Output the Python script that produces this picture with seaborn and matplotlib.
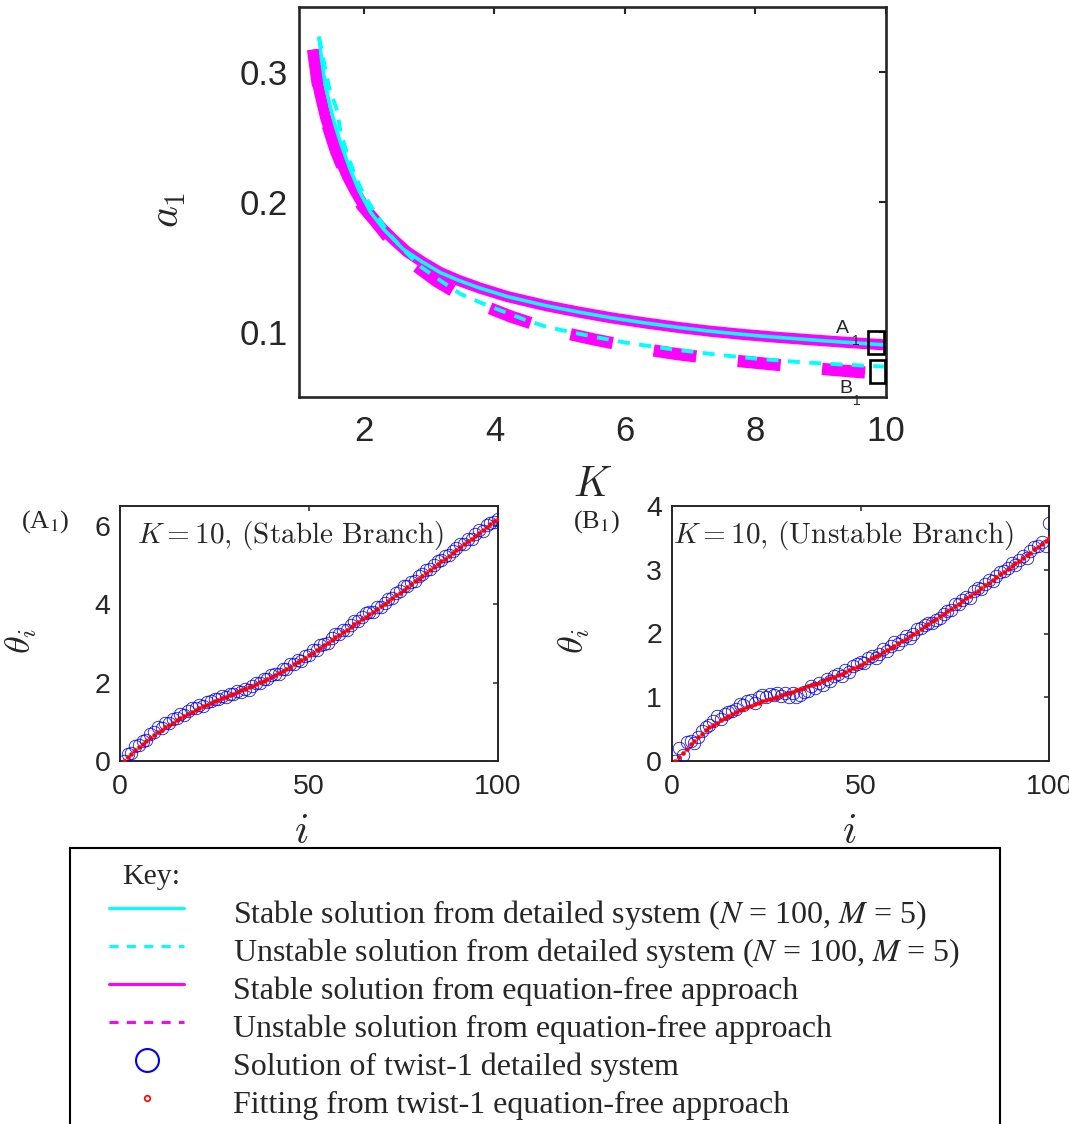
import matplotlib
matplotlib.use("Agg")
import matplotlib.pyplot as plt
from matplotlib.lines import Line2D
from matplotlib.patches import Rectangle
import seaborn as sns

# ---------------- a1 against K (branches of the twist-1 state) ----------------
K_stable_ef = [1.22, 1.29, 1.33, 1.41, 1.48, 1.57, 1.65, 1.75, 1.86, 1.97, 2.10, 2.25,
               2.45, 2.66, 2.90, 3.17, 3.45, 3.78, 4.20, 4.79, 5.30, 5.81, 6.30, 6.83,
               7.30, 7.85, 8.30, 8.86, 9.40, 10.0]
a_stable_ef = [0.317, 0.291, 0.282, 0.265, 0.254, 0.240, 0.2305, 0.219, 0.2085, 0.199,
               0.190, 0.181, 0.171, 0.1615, 0.1535, 0.1455, 0.1395, 0.1335, 0.127, 0.1200,
               0.1150, 0.1105, 0.1068, 0.1032, 0.1004, 0.0977, 0.0958, 0.0937, 0.0918, 0.0898]

K_stable_ds = [1.31, 1.35, 1.40, 1.47, 1.55, 1.65, 1.78, 1.92, 2.10, 2.30, 2.60, 2.90,
               3.17, 3.45, 3.78, 4.20, 4.79, 5.30, 5.81, 6.30, 6.83, 7.30, 7.85, 8.30,
               8.86, 9.40, 10.0]
a_stable_ds = [0.327, 0.310, 0.292, 0.276, 0.260, 0.244, 0.226, 0.209, 0.192, 0.179,
               0.1635, 0.1535, 0.1455, 0.1395, 0.1335, 0.127, 0.1200, 0.1150, 0.1105,
               0.1068, 0.1032, 0.1004, 0.0977, 0.0958, 0.0937, 0.0918, 0.0898]

K_unstable_ds = [1.31, 1.36, 1.46, 1.59, 1.64, 1.74, 1.86, 2.00, 2.18, 2.38, 2.61, 2.87,
                 3.16, 3.48, 3.79, 4.11, 4.45, 4.78, 5.00, 5.50, 6.00, 6.70, 7.40, 8.00,
                 8.70, 9.30, 10.0]
a_unstable_ds = [0.327, 0.314, 0.289, 0.270, 0.254, 0.237, 0.2205, 0.205, 0.191, 0.1756,
                 0.1628, 0.150, 0.1397, 0.129, 0.1223, 0.1160, 0.1095, 0.1040, 0.1015,
                 0.0963, 0.0917, 0.0866, 0.0824, 0.0793, 0.0765, 0.0748, 0.0731]

K_unstable_ef = [1.22, 1.29, 1.41, 1.57, 1.75, 1.97, 2.18, 2.60, 3.11, 3.60, 4.26, 4.90,
                 5.52, 6.15, 6.79, 7.45, 8.09, 8.75, 9.39, 9.72]
a_unstable_ef = [0.317, 0.291, 0.264, 0.239, 0.217, 0.197, 0.1846, 0.158, 0.139, 0.1245,
                 0.1115, 0.101, 0.0941, 0.0878, 0.0828, 0.0788, 0.0757, 0.0725, 0.0698, 0.0685]

# boxes marking the K = 10 solutions shown below: (K0, a0, width, height)
box_A1 = (9.73, 0.0829, 0.24, 0.0179)
box_B1 = (9.75, 0.0603, 0.23, 0.0179)

# ---------------- oscillator phases at K = 10 ----------------
i_index = list(range(1, 101))

theta_stable_fit = [
    0.00, 0.09, 0.18, 0.27, 0.36, 0.44, 0.51, 0.59, 0.66, 0.74,
    0.80, 0.86, 0.92, 0.98, 1.04, 1.09, 1.14, 1.19, 1.24, 1.30,
    1.34, 1.39, 1.43, 1.48, 1.52, 1.56, 1.60, 1.64, 1.68, 1.72,
    1.76, 1.80, 1.84, 1.88, 1.92, 1.96, 2.01, 2.05, 2.10, 2.14,
    2.19, 2.24, 2.30, 2.35, 2.40, 2.46, 2.52, 2.57, 2.63, 2.69,
    2.76, 2.82, 2.89, 2.95, 3.02, 3.09, 3.15, 3.22, 3.28, 3.35,
    3.42, 3.48, 3.55, 3.61, 3.68, 3.75, 3.81, 3.88, 3.94, 4.01,
    4.08, 4.15, 4.22, 4.29, 4.37, 4.44, 4.51, 4.58, 4.65, 4.72,
    4.79, 4.87, 4.94, 5.01, 5.09, 5.16, 5.23, 5.30, 5.38, 5.45,
    5.52, 5.60, 5.67, 5.74, 5.82, 5.89, 5.96, 6.03, 6.11, 6.18]

theta_stable_detailed = [
    0.00, 0.17, 0.21, 0.37, 0.42, 0.52, 0.53, 0.69, 0.73, 0.86,
    0.85, 0.96, 0.96, 1.07, 1.10, 1.19, 1.17, 1.27, 1.34, 1.35,
    1.43, 1.41, 1.50, 1.53, 1.58, 1.58, 1.65, 1.64, 1.72, 1.70,
    1.78, 1.76, 1.83, 1.82, 1.90, 2.00, 1.98, 2.10, 2.10, 2.20,
    2.21, 2.21, 2.35, 2.35, 2.47, 2.47, 2.57, 2.55, 2.67, 2.71,
    2.82, 2.82, 2.96, 2.98, 3.00, 3.14, 3.23, 3.24, 3.34, 3.34,
    3.47, 3.56, 3.58, 3.67, 3.78, 3.79, 3.81, 3.93, 3.92, 4.04,
    4.14, 4.16, 4.29, 4.33, 4.46, 4.47, 4.57, 4.58, 4.72, 4.77,
    4.88, 4.89, 5.00, 5.09, 5.12, 5.23, 5.24, 5.36, 5.42, 5.53,
    5.54, 5.66, 5.67, 5.79, 5.89, 5.87, 6.01, 6.06, 6.10, 6.18]

theta_unstable_fit = [
    0.00, 0.06, 0.13, 0.19, 0.26, 0.31, 0.37, 0.42, 0.48, 0.53,
    0.57, 0.60, 0.64, 0.68, 0.71, 0.74, 0.77, 0.80, 0.82, 0.85,
    0.87, 0.89, 0.91, 0.94, 0.96, 0.98, 0.99, 1.01, 1.03, 1.05,
    1.07, 1.09, 1.11, 1.13, 1.15, 1.17, 1.19, 1.21, 1.23, 1.25,
    1.28, 1.30, 1.32, 1.35, 1.37, 1.40, 1.43, 1.46, 1.48, 1.51,
    1.54, 1.58, 1.61, 1.64, 1.67, 1.71, 1.74, 1.78, 1.81, 1.85,
    1.88, 1.92, 1.96, 1.99, 2.03, 2.07, 2.11, 2.15, 2.19, 2.23,
    2.27, 2.31, 2.35, 2.39, 2.43, 2.47, 2.51, 2.55, 2.59, 2.63,
    2.67, 2.72, 2.76, 2.80, 2.84, 2.88, 2.93, 2.97, 3.01, 3.06,
    3.10, 3.14, 3.19, 3.23, 3.27, 3.32, 3.36, 3.41, 3.45, 3.50]

theta_unstable_detailed = [
    0.00, 0.20, 0.09, 0.30, 0.31, 0.28, 0.38, 0.47, 0.53, 0.57,
    0.62, 0.70, 0.66, 0.73, 0.77, 0.79, 0.82, 0.90, 0.88, 0.94,
    0.96, 0.91, 1.00, 1.03, 1.01, 1.05, 1.04, 1.06, 1.02, 1.06,
    1.00, 1.07, 1.01, 1.04, 1.08, 1.10, 1.17, 1.14, 1.22, 1.20,
    1.29, 1.25, 1.34, 1.37, 1.33, 1.42, 1.40, 1.49, 1.52, 1.55,
    1.53, 1.61, 1.64, 1.62, 1.68, 1.75, 1.72, 1.80, 1.86, 1.84,
    1.90, 1.96, 1.93, 2.00, 2.07, 2.09, 2.14, 2.17, 2.16, 2.21,
    2.24, 2.31, 2.35, 2.37, 2.47, 2.46, 2.52, 2.57, 2.56, 2.66,
    2.72, 2.70, 2.78, 2.84, 2.82, 2.90, 2.96, 2.98, 3.03, 3.10,
    3.07, 3.15, 3.22, 3.19, 3.30, 3.35, 3.38, 3.44, 3.37, 3.73]

top_xticks = [2, 4, 6, 8, 10]
top_yticks = [0.1, 0.2, 0.3]
low_xticks = [0, 50, 100]
stable_yticks = [0, 2, 4, 6]
unstable_yticks = [0, 1, 2, 3, 4]

key_labels = [
    "Stable solution from detailed system ($N$ = 100, $M$ = 5)",
    "Unstable solution from detailed system ($N$ = 100, $M$ = 5)",
    "Stable solution from equation-free approach",
    "Unstable solution from equation-free approach",
    "Solution of twist-1 detailed system",
    "Fitting from twist-1 equation-free approach",
]

# ---------------- styling ----------------
sns.set_style("white")
plt.rcParams["font.family"] = ["Liberation Sans", "DejaVu Sans"]
plt.rcParams["lines.scale_dashes"] = False
plt.rcParams["mathtext.fontset"] = "cm"
plt.rcParams["axes.unicode_minus"] = False

AX_COLOR = "#262626"
CYAN, MAGENTA, BLUE, RED = (0, 1, 1), (1, 0, 1), (0, 0, 1), (1, 0, 0)
W, H = 1069, 1124

fig = plt.figure(figsize=(W / 100, H / 100), dpi=100)


def px_rect(left, top, right, bottom):
    return [left / W, 1 - bottom / H, (right - left) / W, (bottom - top) / H]


def style_axes(ax, spine_w, tick_len, label_size, pad):
    for s in ax.spines.values():
        s.set_visible(True)
        s.set_color(AX_COLOR)
        s.set_linewidth(spine_w)
    ax.tick_params(direction="in", top=True, right=True, length=tick_len,
                   width=spine_w * 0.8, colors=AX_COLOR, labelsize=label_size, pad=pad)
    ax.grid(False)


def curve(ax, K, a, color, lw, z, dashes=None):
    sns.lineplot(x=K, y=a, ax=ax, color=color, linewidth=lw, estimator=None,
                 sort=False, errorbar=None, legend=False, zorder=z)
    line = ax.lines[-1]
    line.set_solid_capstyle("butt")
    line.set_dash_capstyle("butt")
    line.set_solid_joinstyle("round")
    if dashes is not None:
        line.set_linestyle(dashes)


# ---- top panel ----
ax_top = fig.add_axes(px_rect(298.7, 6.7, 886, 396.7))
curve(ax_top, K_stable_ef, a_stable_ef, MAGENTA, 8.0, 2)
curve(ax_top, K_unstable_ef, a_unstable_ef, MAGENTA, 8.8, 3, dashes=(5.0, (31.0, 30.0)))
curve(ax_top, K_stable_ds, a_stable_ds, CYAN, 2.6, 4)
curve(ax_top, K_unstable_ds, a_unstable_ds, CYAN, 2.8, 5, dashes=(0, (8.6, 6.8)))
ax_top.set_xlim(1, 10)
ax_top.set_ylim(0.05, 0.35)
ax_top.set_xticks(top_xticks)
ax_top.set_yticks(top_yticks)
ax_top.set_xticklabels([str(v) for v in top_xticks])
ax_top.set_yticklabels([f"{v:.1f}" for v in top_yticks])
style_axes(ax_top, 1.9, 5, 25, 8)
ax_top.tick_params(axis="x", pad=13)
ax_top.set_xlabel("$K$", fontsize=30)
ax_top.set_ylabel("$a_1$", fontsize=30)
ax_top.xaxis.set_label_coords(0.5, -0.175)
ax_top.yaxis.set_label_coords(-0.188, 0.48)

for (k0, a0, wk, ha) in (box_A1, box_B1):
    ax_top.add_patch(Rectangle((k0, a0), wk, ha, fill=False, edgecolor="black",
                               linewidth=1.9, zorder=6, clip_on=False))
ax_top.text(9.23, 0.099, "A", fontsize=14, ha="left", va="baseline", zorder=7)
ax_top.text(9.48, 0.0898, "1", fontsize=10, ha="left", va="baseline", zorder=7)
ax_top.text(9.28, 0.0528, "B", fontsize=14, ha="left", va="baseline", zorder=7,
            clip_on=False)
ax_top.text(9.49, 0.0436, "1", fontsize=10, ha="left", va="baseline", zorder=7,
            clip_on=False)


# ---- lower panels ----
def profile_panel(rect, detailed, fit, ylim, yticks, title, title_x, tag, tag_xy):
    ax = fig.add_axes(rect)
    sns.lineplot(x=i_index, y=detailed, ax=ax, estimator=None, sort=False,
                 errorbar=None, legend=False, linestyle="", marker="o",
                 markersize=9.0, markerfacecolor="none", markeredgecolor=BLUE,
                 markeredgewidth=0.55, color=BLUE, zorder=3)
    sns.lineplot(x=i_index, y=fit, ax=ax, estimator=None, sort=False,
                 errorbar=None, legend=False, linestyle="", marker="o",
                 markersize=3.0, markerfacecolor=RED, markeredgecolor=RED,
                 markeredgewidth=0.3, color=RED, zorder=4)
    ax.set_xlim(0, 100)
    ax.set_ylim(*ylim)
    ax.set_xticks(low_xticks)
    ax.set_yticks(yticks)
    style_axes(ax, 1.4, 3.6, 20.5, 7)
    ax.tick_params(axis="x", pad=9)
    ax.set_xlabel("$i$", fontsize=30)
    ax.set_ylabel(r"$\theta_i$", fontsize=26)
    ax.text(title_x, 0.886, title, transform=ax.transAxes, fontsize=21,
            family="cmr10", math_fontfamily="cm", ha="left", va="center", zorder=6)
    fig.text(tag_xy[0] / W, 1 - tag_xy[1] / H, tag, fontsize=19,
             family="Liberation Serif", math_fontfamily="stix",
             ha="center", va="center")
    return ax


ax_a = profile_panel(px_rect(120, 506, 498, 761), theta_stable_detailed,
                     theta_stable_fit, (0, 6.5), stable_yticks,
                     "$K = 10$, (Stable Branch)", 0.045,
                     r"(A$_1$)", (45, 522))
ax_a.xaxis.set_label_coords(0.479, -0.2)
ax_a.yaxis.set_label_coords(-0.215, 0.47)

ax_b = profile_panel(px_rect(671.7, 506, 1049.3, 761), theta_unstable_detailed,
                     theta_unstable_fit, (0, 4), unstable_yticks,
                     "$K = 10$, (Unstable Branch)", 0.003,
                     r"(B$_1$)", (596, 522))
ax_b.xaxis.set_label_coords(0.47, -0.2)
ax_b.yaxis.set_label_coords(-0.212, 0.47)

# ---- key box ----
ax_key = fig.add_axes([70 / W, -0.05, 930 / W, 1 - 848 / H + 0.05])
ax_key.set_xticks([])
ax_key.set_yticks([])
for s in ax_key.spines.values():
    s.set_visible(True)
    s.set_color("black")
    s.set_linewidth(1.5)

fig.text(122 / W, 1 - 877 / H, "Key:", fontsize=21.5, family="Liberation Serif",
         ha="left", va="center")

handles = [
    Line2D([], [], color=CYAN, linewidth=2.2),
    Line2D([], [], color=CYAN, linewidth=2.2, dashes=(6.5, 6.0)),
    Line2D([], [], color=MAGENTA, linewidth=2.2),
    Line2D([], [], color=MAGENTA, linewidth=2.2, dashes=(6.5, 6.0)),
    Line2D([], [], linestyle="none", marker="o", markersize=16.5,
           markerfacecolor="none", markeredgecolor=BLUE, markeredgewidth=1.5),
    Line2D([], [], linestyle="none", marker="o", markersize=4,
           markerfacecolor="white", markeredgecolor=RED, markeredgewidth=1.2),
]
KEY_FS = 23.0
KEY_PX = KEY_FS * 100 / 72
leg = fig.legend(handles, key_labels, loc="upper left",
                 bbox_to_anchor=(109 / W, 1 - 893 / H), bbox_transform=fig.transFigure,
                 frameon=False, borderpad=0, borderaxespad=0,
                 handlelength=75 / KEY_PX, handletextpad=49 / KEY_PX,
                 handleheight=1.5, labelspacing=-0.032,
                 prop={"family": "Liberation Serif", "size": KEY_FS})
for t in leg.get_texts():
    t.set_math_fontfamily("stix")

fig.savefig("out.png", dpi=100)
